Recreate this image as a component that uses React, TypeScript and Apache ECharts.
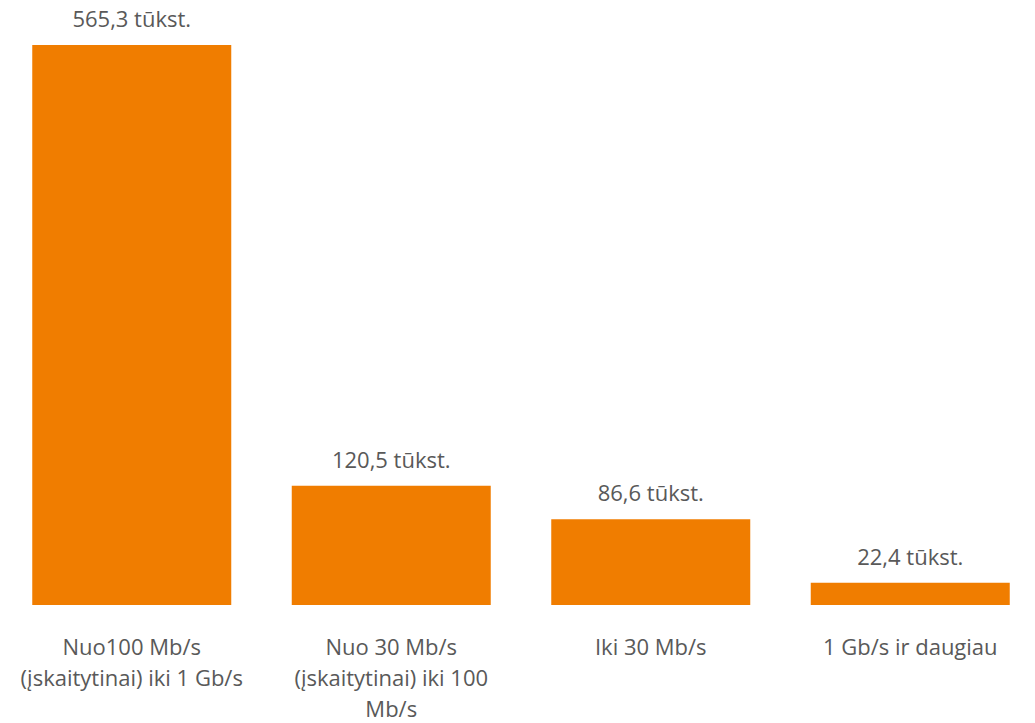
import React, { useEffect, useRef } from "react";
import * as echarts from "echarts";

const categories = [
  "Nuo100 Mb/s\n(įskaitytinai) iki 1 Gb/s",
  "Nuo 30 Mb/s\n(įskaitytinai) iki 100\nMb/s",
  "Iki 30 Mb/s",
  "1 Gb/s ir daugiau",
];
const values = [565.3, 120.5, 86.6, 22.4];

export default function App() {
  const ref = useRef<HTMLDivElement>(null);
  useEffect(() => {
    if (!ref.current) return;
    const chart = echarts.init(ref.current, null, { renderer: "svg" });
    chart.setOption({
      animation: false,
      grid: {
        left: 2,
        right: -5,
        top: 45,
        bottom: 118,
        containLabel: false,
        outerBoundsMode: "none",
      },
      xAxis: {
        type: "category",
        data: categories,
        axisLine: { show: false },
        axisTick: { show: false },
        axisLabel: {
          interval: 0,
          margin: 25,
          fontSize: 22,
          lineHeight: 31,
          color: "#595959",
          fontFamily: "Open Sans",
        },
      },
      yAxis: {
        type: "value",
        min: 0,
        max: 565.3,
        show: false,
        splitLine: { show: false },
      },
      series: [
        {
          type: "bar",
          data: values,
          barWidth: 199,
          itemStyle: { color: "#F07D00" },
          label: {
            show: true,
            position: "top",
            distance: 16,
            fontSize: 22,
            color: "#595959",
            fontFamily: "Open Sans",
            formatter: (p: any) => String(p.value).replace(".", ",") + " tūkst.",
          },
        },
      ],
    });
    return () => chart.dispose();
  }, []);
  return (
    <div
      ref={ref}
      style={{ position: "absolute", left: 0, top: 0, width: 1035, height: 723 }}
    />
  );
}
